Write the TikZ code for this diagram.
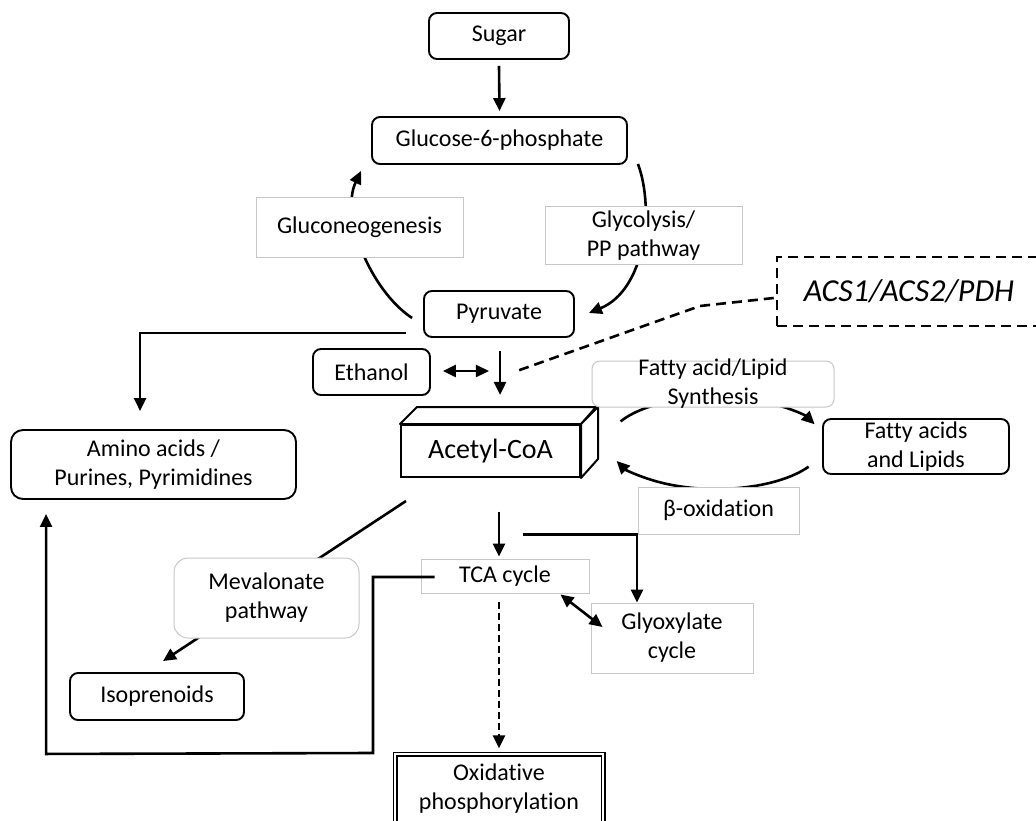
\documentclass[tikz,border=0pt]{standalone}
\usepackage{fontspec}
\setmainfont{Carlito}[Ligatures={NoCommon,NoContextual}]
\usetikzlibrary{arrows.meta,calc}
\pgfdeclarelayer{background}
\pgfsetlayers{background,main}
\begin{document}
\begin{tikzpicture}[x=1pt,y=-1pt,
 txt/.style={font=\fontsize{24}{29}\selectfont, align=center, inner sep=0pt, text=black},
 box/.style={txt, draw=black, line width=1.9pt, rounded corners=8pt, fill=white},
 lbl/.style={txt, draw=black!22, line width=1pt, fill=white},
 conn/.style={line width=2.6pt},
 arr/.style={conn, -{Triangle[length=13pt,width=12pt]}},
 darr/.style={conn, {Triangle[length=13pt,width=12pt]}-{Triangle[length=13pt,width=12pt]}},
 dashline/.style={conn, dash pattern=on 10pt off 6pt}]
\useasboundingbox (0,0) rectangle (1036,821);
\clip (0,0) rectangle (1036,821);

% nodes
\node[box, minimum width=140pt, minimum height=46pt] (sugar) at (499,36) {Sugar};
\node[box, minimum width=255pt, minimum height=47pt] (g6p) at (499.5,140.5) {Glucose-6-phosphate};
\node[lbl, minimum width=207pt, minimum height=59pt] (glucon) at (359.5,227.5) {Gluconeogenesis};
\node[lbl, minimum width=197pt, minimum height=57pt] (glyco) at (643.5,235.5) {Glycolysis/\\PP pathway};
\node[box, minimum width=150pt, minimum height=46pt] (pyr) at (499,314) {Pyruvate};
\node[draw, dash pattern=on 10pt off 6pt, line width=2.6pt, minimum width=264pt, minimum height=69pt, inner sep=0pt, font=\fontsize{32}{38}\selectfont\itshape] (acs) at (909,291.5) {ACS1/ACS2/PDH};
\node[box, minimum width=117pt, minimum height=46pt] (eth) at (371.5,372) {Ethanol};
\node[draw, line width=2pt, fill=white, minimum width=179pt, minimum height=52pt, inner sep=0pt, font=\fontsize{28}{34}\selectfont] (acoa) at (490.5,451) {Acetyl-CoA};
\draw[line width=2pt, line join=round, fill=white] (acoa.north west) -- ++(17,-17) -- ++(179,0) -- (acoa.north east) -- cycle;
\draw[line width=2pt, line join=round, fill=white] (acoa.north east) -- ++(17,-17) -- ++(0,52) -- (acoa.south east) -- cycle;
\node[lbl, rounded corners=8pt, minimum width=242pt, minimum height=46pt] (fasyn) at (713,384) {};
\node[txt] (fasyntxt) at (fasyn.center) {Fatty acid/Lipid\\Synthesis};
\node[box, minimum width=186pt, minimum height=55pt] (fa) at (916,446.5) {Fatty acids\\and Lipids};
\node[box, rounded corners=12pt, minimum width=285pt, minimum height=69pt] (amino) at (153.5,464.5) {Amino acids /\\Purines, Pyrimidines};
\node[lbl, minimum width=161pt, minimum height=47pt] (box) at (718.5,510.5) {β-oxidation};
\node[lbl, rounded corners=14pt, minimum width=185pt, minimum height=80pt] (meva) at (266.5,598) {Mevalonate\\pathway};
\node[lbl, minimum width=168pt, minimum height=34pt] (tca) at (505,576) {TCA cycle};
\node[lbl, minimum width=162pt, minimum height=70pt] (glyox) at (672,638) {Glyoxylate\\cycle};
\node[box, minimum width=174pt, minimum height=47pt] (iso) at (157,696.5) {Isoprenoids};
\node[txt, draw, double, double distance=2.2pt, line width=1.4pt, fill=white, minimum width=208pt, minimum height=70pt] (oxp) at (499,789) {Oxidative\\phosphorylation};

% connectors passing under label boxes
\begin{pgfonlayer}{background}
\draw[arr] ($(pyr.west)+(-11,4)$) .. controls (370,290) and (340,215) .. ($(g6p.south west)+(-10,6)$);
\draw[arr] ($(g6p.south east)+(10,-1)$) .. controls (655,210) and (645,290) .. ($(pyr.east)+(14,-1)$);
\draw[arr] ($(acoa.south west)+(6,23)$) -- ($(iso.north)+(6,-11)$);
\draw[arr] (620.6,421.4) arc[start angle=152, end angle=24, x radius=108pt, y radius=46pt];
\draw[arr] (808.6,466.7) arc[start angle=-31, end angle=-157, x radius=108pt, y radius=46pt];
\end{pgfonlayer}

% connectors
\draw[arr] ($(sugar.south)+(0,6)$) -- ($(g6p.north)+(0,-5)$);
\draw[arr] ($(pyr.south west)+(-17,-5)$) -| ($(amino.north west)+(130,-18)$);
\draw[arr] ($(pyr.south)+(1,13)$) -- ($(pyr.south)+(1,57)$);
\draw[darr] ($(eth.east)+(12,-1)$) -- ($(eth.east)+(58,-1)$);
\draw[dashline] ($(acs.west)+(-2,6.5)$) -- (700,306) -- ($(pyr.south)+(18,33)$);
\draw[arr] ($(tca.north)+(-6,-47)$) -- ($(tca.north)+(-6,-2)$);
\draw[arr] ($(tca.north)+(18,-24)$) -| ($(glyox.north)+(-35,0)$);
\draw[darr] ($(tca.south east)+(-29,1)$) -- ($(glyox.west)+(12,-11)$);
\draw[arr, dash pattern=on 7pt off 4pt] ($(tca.south)+(-6,8)$) -- ($(oxp.north)+(0,-5)$);
\draw[arr] ($(tca.west)+(14,1)$) -- (373,577) -- (373,753) -- ($(amino.south west)+(36,254)$) -- ($(amino.south west)+(36,14)$);
\end{tikzpicture}
\end{document}
